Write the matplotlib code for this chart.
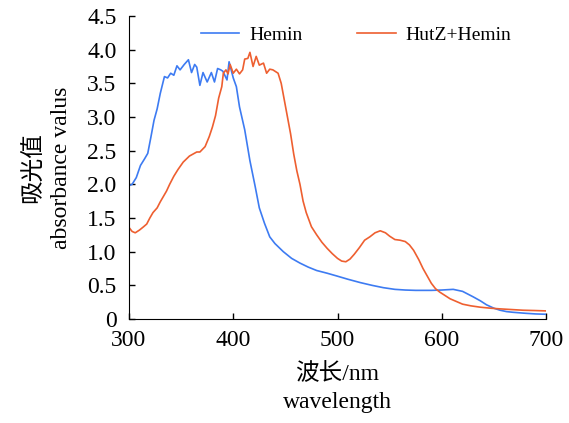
import matplotlib
matplotlib.use('Agg')
import matplotlib.pyplot as plt

plt.rcParams['font.family'] = ['Liberation Serif', 'Noto Sans CJK SC']

# Hemin spectrum
hemin_wl = [300, 303, 307, 311, 315, 318, 321, 324, 327, 330, 334, 337, 340, 343, 346,
            349, 353, 357, 360, 363, 365, 368, 371, 375, 379, 382, 385, 388, 390, 394,
            396, 398, 400, 403, 406, 411, 416, 421, 425, 430, 435, 440, 448, 456, 464,
            472, 480, 490, 499, 510, 522, 533, 544, 555, 565, 575, 590, 600, 611, 620,
            630, 637, 643, 650, 656, 662, 668, 680, 690, 700]
hemin_abs = [1.98, 2.00, 2.10, 2.28, 2.38, 2.46, 2.70, 2.95, 3.12, 3.35, 3.60, 3.58, 3.65, 3.62, 3.76,
             3.70, 3.78, 3.85, 3.66, 3.78, 3.74, 3.47, 3.66, 3.52, 3.66, 3.52, 3.72, 3.70, 3.68, 3.55,
             3.82, 3.70, 3.58, 3.45, 3.15, 2.81, 2.35, 1.97, 1.65, 1.42, 1.22, 1.12, 1.00, 0.90, 0.83,
             0.77, 0.72, 0.68, 0.64, 0.59, 0.54, 0.50, 0.465, 0.44, 0.43, 0.425, 0.425, 0.43, 0.44, 0.41,
             0.33, 0.27, 0.21, 0.16, 0.13, 0.11, 0.10, 0.085, 0.075, 0.07]

# HutZ+Hemin spectrum
hutz_wl = [300, 303, 306, 310, 314, 317, 320, 323, 327, 330, 333, 336, 339, 343, 347,
           352, 358, 365, 368, 373, 377, 380, 383, 386, 389, 390.5, 393, 395, 397, 400,
           403, 406, 409, 411, 414, 416, 419, 422, 425, 429, 432, 435, 438, 443, 446,
           449, 452, 455, 458, 461, 464, 467, 470, 475, 480, 485, 490, 495, 500, 504,
           508, 512, 516, 521, 526, 531, 536, 541, 546, 550, 555, 560, 565, 569, 573,
           578, 582, 586, 590, 594, 598, 603, 608, 614, 620, 628, 637, 647, 656, 667,
           678, 690, 700]
hutz_abs = [1.36, 1.30, 1.28, 1.32, 1.37, 1.41, 1.50, 1.58, 1.65, 1.74, 1.82, 1.90, 2.00, 2.12, 2.22,
            2.33, 2.42, 2.48, 2.48, 2.56, 2.71, 2.85, 3.02, 3.28, 3.45, 3.65, 3.70, 3.64, 3.78, 3.65,
            3.71, 3.64, 3.70, 3.86, 3.87, 3.96, 3.75, 3.90, 3.77, 3.80, 3.65, 3.71, 3.70, 3.65, 3.50,
            3.25, 3.00, 2.75, 2.45, 2.20, 2.00, 1.75, 1.58, 1.37, 1.25, 1.14, 1.05, 0.97, 0.90, 0.86,
            0.85, 0.89, 0.96, 1.06, 1.17, 1.22, 1.28, 1.31, 1.28, 1.23, 1.18, 1.17, 1.15, 1.10, 1.02,
            0.88, 0.75, 0.64, 0.53, 0.45, 0.40, 0.35, 0.30, 0.26, 0.22, 0.195, 0.175, 0.16, 0.15, 0.14,
            0.13, 0.125, 0.12]

x_ticks = [300, 400, 500, 600, 700]
y_ticks = [0, 0.5, 1.0, 1.5, 2.0, 2.5, 3.0, 3.5, 4.0, 4.5]
y_tick_labels = ['0', '0.5', '1.0', '1.5', '2.0', '2.5', '3.0', '3.5', '4.0', '4.5']

fig = plt.figure(figsize=(5.69, 4.23), dpi=100)
ax = fig.add_axes([0.2267, 0.2459, 0.7329, 0.7163])

ax.plot(hemin_wl, hemin_abs, color='#3D7BF2', lw=1.2, label='Hemin')
ax.plot(hutz_wl, hutz_abs, color='#EE5F30', lw=1.2, label='HutZ+Hemin')

ax.set_xlim(300, 700)
ax.set_ylim(0, 4.5)
ax.set_xticks(x_ticks)
ax.set_yticks(y_ticks)
ax.set_yticklabels(y_tick_labels)
ax.spines['top'].set_visible(False)
ax.spines['right'].set_visible(False)
ax.tick_params(direction='in', length=4, width=1, labelsize=17)
ax.tick_params(axis='y', pad=9)
ax.tick_params(axis='x', pad=8)

ax.set_xlabel('波长/nm\nwavelength', fontsize=17, labelpad=9, linespacing=1.4)
ax.set_ylabel('吸光值\nabsorbance valus', fontsize=17, labelpad=11, linespacing=1.35)

ax.legend(loc='center', bbox_to_anchor=(0.544, 0.937), ncol=2, frameon=False,
          fontsize=14, handlelength=2.0, handletextpad=0.5, columnspacing=2.8)

fig.savefig('out.png', dpi=100)
